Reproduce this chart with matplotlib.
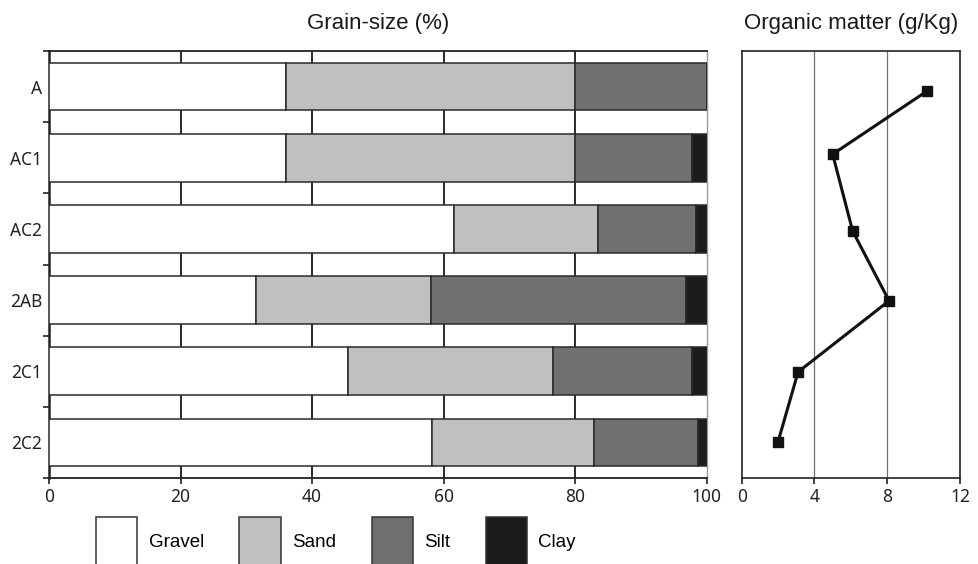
import numpy as np
import matplotlib.pyplot as plt
from matplotlib.patches import Patch

horizons = ['A', 'AC1', 'AC2', '2AB', '2C1', '2C2']
gravel = [36.0, 36.0, 61.6, 31.4, 45.4, 58.2]
sand = [43.9, 43.9, 21.8, 26.7, 31.2, 24.7]
silt = [20.1, 17.8, 14.9, 38.7, 21.1, 15.7]
clay = [0.0, 2.3, 1.7, 3.2, 2.3, 1.4]

om = [10.2, 5.0, 6.1, 8.1, 3.1, 2.0]
om_pos = [0.56, 1.45, 2.53, 3.51, 4.51, 5.49]

colors = ['white', '#c0c0c0', '#707070', '#1c1c1c']
names = ['Gravel', 'Sand', 'Silt', 'Clay']

plt.rcParams['font.family'] = ['Noto Sans', 'DejaVu Sans']
plt.rcParams['xtick.labelsize'] = 12.5
plt.rcParams['ytick.labelsize'] = 12.5
txt_font = 'Liberation Sans'

fig = plt.figure(figsize=(9.79, 5.64), dpi=100)
ax = fig.add_axes([0.050, 0.1525, 0.672, 0.757])
ax2 = fig.add_axes([0.7576, 0.1525, 0.223, 0.757])

# grain-size stacked bars
y = np.arange(len(horizons)) + 0.5
left = np.zeros(len(horizons))
for vals, c, n in zip([gravel, sand, silt, clay], colors, names):
    ax.barh(y, vals, left=left, height=0.67, color=c, edgecolor='#2a2a2a',
            linewidth=1.1, label=n, zorder=3)
    left += np.array(vals)

for xv in [20, 40, 60, 80]:
    ax.axvline(xv, color='#1a1a1a', lw=1.3, zorder=1)

ax.set_xlim(0, 100)
ax.set_ylim(len(horizons), 0)
ax.set_xticks([0, 20, 40, 60, 80, 100])
ax.set_yticks(y)
ax.set_yticklabels(horizons)
ax.set_yticks(np.arange(0, len(horizons) + 1), minor=True)
ax.tick_params(axis='y', which='major', length=0, pad=5, labelcolor='#222222')
ax.tick_params(axis='y', which='minor', length=4, width=1.2, color='#222222')
ax.tick_params(axis='x', length=4, width=1.2, pad=3, color='#222222', labelcolor='#222222')
for s in ['left', 'bottom', 'top']:
    ax.spines[s].set_color('#222222')
    ax.spines[s].set_linewidth(1.3)
ax.spines['left'].set_linewidth(1.8)
ax.spines['right'].set_color('#9a9a9a')
ax.spines['right'].set_linewidth(1.0)
ax.set_title('Grain-size (%)', fontsize=16, family=txt_font, pad=16, color='#1a1a1a')

# organic matter profile
ax2.plot(om, om_pos, color='#111111', lw=2.2, marker='s', ms=6.5, zorder=3)
for xv in [4, 8]:
    ax2.axvline(xv, color='#707070', lw=0.9, zorder=1)
ax2.set_xlim(0, 12)
ax2.set_ylim(len(horizons), 0)
ax2.set_xticks([0, 4, 8, 12])
ax2.set_yticks([])
ax2.tick_params(axis='x', length=4, width=1.2, pad=3, color='#222222', labelcolor='#222222')
for s in ax2.spines.values():
    s.set_color('#222222')
    s.set_linewidth(1.2)
ax2.set_title('Organic matter (g/Kg)', fontsize=16, family=txt_font, pad=16, color='#1a1a1a')

handles = [Patch(facecolor=c, edgecolor='#333333', linewidth=1.1) for c in colors]
leg = fig.legend(handles, names, loc='upper left', bbox_to_anchor=(96 / 979, 1 - 517 / 564),
                 ncol=4, frameon=False, prop={'family': txt_font, 'size': 13.5},
                 handlelength=2.2, handleheight=3.7, handletextpad=0.6,
                 columnspacing=1.9, borderpad=0, borderaxespad=0)

fig.savefig('out.png', dpi=100)
